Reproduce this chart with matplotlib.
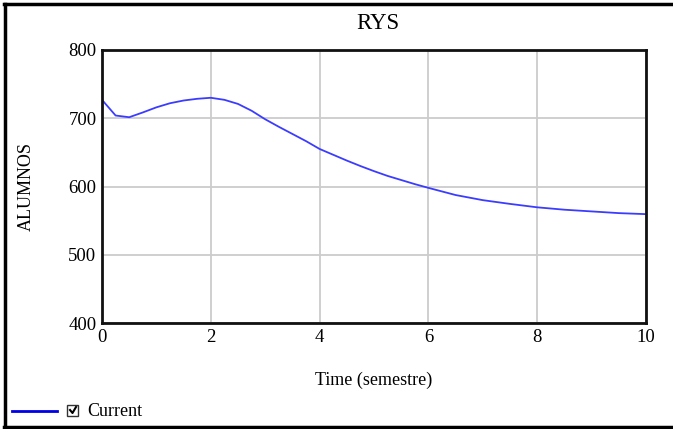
import numpy as np
import matplotlib
matplotlib.use("Agg")
import matplotlib.pyplot as plt
from matplotlib.patches import Rectangle
from matplotlib.lines import Line2D

# data
time = [0, 0.25, 0.5, 0.75, 1, 1.25, 1.5, 1.75, 2, 2.25, 2.5, 2.75, 3,
        3.25, 3.5, 3.75, 4, 4.25, 4.5, 4.75, 5, 5.25, 5.5, 5.75, 6,
        6.5, 7, 7.5, 8, 8.5, 9, 9.5, 10]
alumnos = [727, 704, 701.5, 708.5, 716, 722, 726, 728.5, 730, 727, 721, 711, 698.5,
           687.5, 677, 666.5, 655, 646.5, 638, 630, 622.5, 615.5, 609.5, 603.5, 598,
           587.5, 580, 574.5, 569.5, 566, 563.5, 561, 559.5]
xticks = [0, 2, 4, 6, 8, 10]
yticks = [400, 500, 600, 700, 800]

plt.rcParams['font.family'] = ['Liberation Serif', 'DejaVu Serif']

W, H = 673, 429
fig = plt.figure(figsize=(W / 100, H / 100), dpi=100)

# plot area in pixels: left 102, right 646, top 50, bottom 323
ax = fig.add_axes([102 / W, 1 - 323 / H, (646 - 102) / W, (323 - 50) / H])
ax.plot(time, alumnos, color='#3c3cff', linewidth=1.3)
ax.set_xlim(0, 10)
ax.set_ylim(400, 800)
ax.set_xticks(xticks)
ax.set_yticks(yticks)
ax.grid(True, color='#cccccc', linewidth=1.3)
ax.tick_params(length=0, labelsize=13.5, pad=4)
for s in ax.spines.values():
    s.set_linewidth(2)
    s.set_color('#111111')
ax.set_title('RYS', fontsize=16.5, pad=15, x=0.507)
ax.set_xlabel('Time (semestre)', fontsize=13, labelpad=19)
ax.set_ylabel('ALUMNOS', fontsize=13)
ax.yaxis.set_label_coords(-0.124, 0.5)

# outer frame (left, top, bottom)
def px(x, y):
    return x / W, 1 - y / H

for (x0, y0), (x1, y1) in [((5, 4), (5, 427)), ((4, 4), (673, 4)), ((4, 427), (673, 427))]:
    a, b = px(x0, y0)
    c, d = px(x1, y1)
    fig.add_artist(Line2D([a, c], [b, d], color='black', linewidth=2.5,
                          transform=fig.transFigure))

# legend at the bottom
a, b = px(12, 411)
c, d = px(57, 411)
fig.add_artist(Line2D([a, c], [b, d], color='#0000e6', linewidth=2, transform=fig.transFigure))
bx, by = px(67, 416)
fig.add_artist(Rectangle((bx, by), 11 / W, 11 / H, transform=fig.transFigure,
                         facecolor='white', edgecolor='#333333', linewidth=1))
cx = [70 / W, 72.5 / W, 76 / W]
cy = [1 - 410 / H, 1 - 413 / H, 1 - 407 / H]
fig.add_artist(Line2D(cx, cy, color='black', linewidth=1.5, transform=fig.transFigure))
tx, ty = px(87, 411)
fig.text(tx, ty, 'Current', fontsize=13, va='center', ha='left')

fig.savefig('out.png', dpi=100)
